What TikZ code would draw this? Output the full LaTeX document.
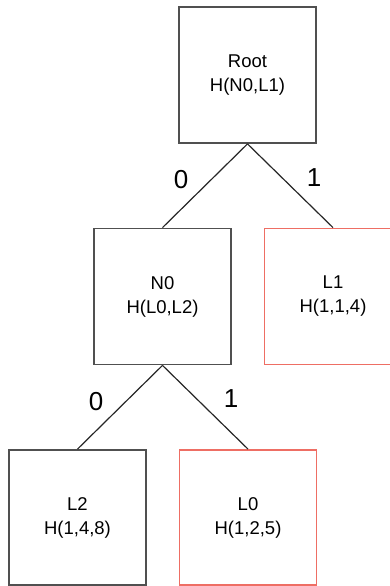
\documentclass[tikz,border=0pt]{standalone}
\usepackage{fontspec}
\setmainfont{Liberation Sans}
\definecolor{boxgray}{RGB}{80,80,80}
\definecolor{leafred}{RGB}{238,110,100}
\tikzset{
  box/.style={draw=boxgray, line width=1.8pt, minimum width=137pt, minimum height=136pt,
    inner sep=0pt, align=center, font=\fontsize{18.5}{24}\selectfont},
  redbox/.style={box, draw=leafred},
  edge/.style={draw=black!85, line width=1.2pt},
  bit/.style={font=\fontsize{26}{30}\selectfont, inner sep=0pt}
}
\begin{document}
\begin{tikzpicture}[x=1pt,y=-1pt]
\useasboundingbox (0,0) rectangle (390,586);
\clip (0,0) rectangle (390,586);
\node[box] (root) at (247.5,75) {Root\\H(N0,L1)};
\node[box] (n0) at (162.5,296.5) {N0\\H(L0,L2)};
\node[redbox] (l1) at (333,296.5) {L1\\H(1,1,4)};
\node[box, minimum height=135pt] (l2) at (77.5,517.5) {L2\\H(1,4,8)};
\node[redbox, minimum height=135pt] (l0) at (248,517.5) {L0\\H(1,2,5)};
\draw[edge] (root.south) -- (n0.north);
\draw[edge] (root.south) -- (l1.north);
\draw[edge] (n0.south) -- (l2.north);
\draw[edge] (n0.south) -- (l0.north);
\node[bit] (b0) at (181,180) {0};
\node[bit] (b1) at (314,178) {1};
\node[bit] (b2) at (96,402) {0};
\node[bit] (b3) at (231,399) {1};
\end{tikzpicture}
\end{document}
